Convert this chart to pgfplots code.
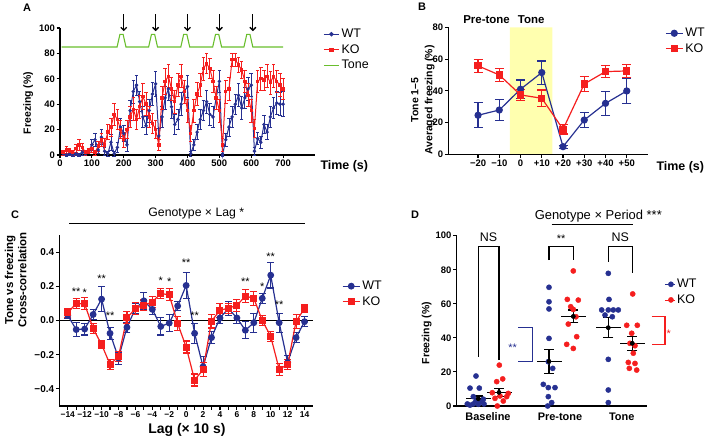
\documentclass[border=0pt]{standalone}
\usepackage{fontspec}
\setmainfont{Liberation Sans}
\usepackage{pgfplots}
\usepackage{pgfplotstable}
\pgfplotsset{compat=1.18}
\usetikzlibrary{arrows.meta}

\definecolor{wtblue}{RGB}{38,48,145}
\definecolor{kored}{RGB}{245,30,30}
\definecolor{tonegreen}{RGB}{105,190,45}
\definecolor{bandyellow}{RGB}{255,255,175}
\newcommand{\by}{\symbol{"00D7}}

\pgfplotsset{
  gp/.style={
    scale only axis, clip=false,
    axis lines=left, axis line style={-, line width=1.1bp},
    tick style={black, line width=1.1bp}, tick align=outside,
    major tick length=3.5bp, minor tick length=3.5bp,
    ticklabel style={font=\fontsize{9.5}{11}\selectfont\bfseries, inner sep=1.5bp},
    /pgf/number format/assume math mode=true,
    label style={font=\fontsize{10.5}{12}\selectfont\bfseries},
    legend style={draw=none, fill=none, inner sep=0pt,
      font=\fontsize{12.5}{14}\selectfont, cells={anchor=west}, row sep=1.5bp},
  },
  ebar/.style 2 args={error bars/.cd, y dir=both, y explicit,
    error bar style={line width=#1},
    error mark options={rotate=90, mark size=#2, line width=#1}},
}

% panel A: freezing over the session, 10 s bins
\pgfplotstableread{
t v e
10 1 1
20 0 1
30 1 1
40 0 1
50 1 1
60 0 1
70 2 2
80 1 1
90 3 2
100 8 4
110 12 5
120 4 3
130 14 6
140 3 3
150 1 2
160 10 6
170 1 2
180 6 4
190 22 7
200 17 6
210 8 5
220 35 8
230 50 9
240 55 8
250 42 8
260 30 8
270 23 7
280 35 9
290 48 9
300 56 10
310 15 6
320 30 8
330 45 9
340 52 9
350 38 9
360 24 8
370 28 8
380 40 9
390 50 9
400 54 9
410 1 2
420 8 4
430 18 6
440 28 8
450 35 8
460 42 9
470 32 9
480 30 8
490 45 9
500 58 9
510 0 1
520 12 5
530 22 7
540 30 8
550 40 8
560 47 9
570 37 9
580 45 8
590 52 9
600 55 9
610 3 3
620 13 5
630 10 5
640 24 7
650 18 6
660 30 8
670 37 8
680 41 9
690 40 9
700 40 10
}\wtA

\pgfplotstableread{
t v e
10 2 2
20 4 3
30 3 2
40 2 2
50 5 3
60 8 4
70 6 3
80 2 2
90 3 2
100 5 3
110 2 2
120 7 4
130 12 5
140 8 5
150 18 6
160 22 7
170 32 9
180 28 8
190 20 7
200 12 6
210 20 7
220 30 8
230 36 9
240 28 8
250 38 9
260 46 10
270 40 9
280 30 8
290 25 8
300 20 7
310 8 4
320 45 9
330 58 10
340 62 9
350 52 9
360 42 9
370 55 9
380 62 9
390 50 9
400 35 9
410 17 6
420 35 9
430 48 9
440 55 9
450 68 9
460 72 8
470 68 8
480 58 9
490 45 9
500 35 9
510 8 5
520 50 9
530 52 9
540 75 5
550 75 5
560 71 6
570 67 7
580 58 9
590 47 9
600 35 9
610 21 7
620 58 9
630 60 9
640 59 8
650 62 9
660 57 9
670 62 9
680 58 9
690 55 9
700 52 8
}\koA

% panel B: tone-locked average
\pgfplotstableread{
t v e
-20 24.6 8
-10 27.9 6.5
0 41 5.8
10 51.5 7.3
20 4.8 1
30 21.6 4.6
40 32.1 7.4
50 39.9 8
}\wtB
\pgfplotstableread{
t v e
-20 55.7 4.3
-10 50 4.2
0 37.4 3.5
10 35.3 5.2
20 15.8 3
30 44.3 4.6
40 52.1 4
50 52.5 4.2
}\koB

% panel C: cross-correlation
\pgfplotstableread{
l v e
-14 0.03 0.02
-13 -0.053 0.04
-12 -0.05 0.035
-11 0.035 0.03
-10 0.125 0.075
-9 -0.075 0.035
-8 -0.22 0.035
-7 -0.04 0.03
-6 0.07 0.03
-5 0.115 0.05
-4 0.065 0.03
-3 -0.035 0.05
-2 -0.015 0.05
-1 0.085 0.025
0 0.205 0.075
1 -0.075 0.06
2 -0.27 0.06
3 -0.1 0.035
4 0.015 0.03
5 0.07 0.04
6 0.015 0.035
7 -0.057 0.05
8 -0.013 0.055
9 0.13 0.03
10 0.265 0.075
11 -0.013 0.055
12 -0.245 0.04
13 -0.1 0.03
14 -0.007 0.03
}\wtC
\pgfplotstableread{
l v e
-14 0.045 0.025
-13 0.1 0.03
-12 0.097 0.035
-11 -0.047 0.03
-10 -0.14 0.025
-9 -0.257 0.03
-8 -0.21 0.03
-7 0.015 0.035
-6 0.07 0.035
-5 0.09 0.03
-4 0.108 0.03
-3 0.158 0.03
-2 0.15 0.035
-1 -0.018 0.04
0 -0.155 0.035
1 -0.348 0.035
2 -0.288 0.04
3 -0.004 0.04
4 0.06 0.04
5 0.072 0.03
6 0.088 0.035
7 0.143 0.04
8 0.13 0.04
9 0.0 0.03
10 -0.093 0.03
11 -0.285 0.035
12 -0.258 0.03
13 -0.005 0.04
14 0.07 0.025
}\koC

% panel D: individual animals (x = jittered position)
\pgfplotstableread{
x v
37.7 17.6
31.7 10.5
41 10.5
35 5.5
45 4
29 1.2
35 1.2
40 1
45.7 1.2
43.4 2.5
31.7 0.5
37.7 3
110.7 69.7
110.7 61.2
110.7 57
110.7 39.7
110 26
114.4 22.1
105 12.7
110 10.8
116.7 10.8
110 5.5
113.4 2
109.4 0
170 77.9
170.7 62.6
163.4 56.4
170 56.4
175 56.4
180 56.4
166.7 53.4
174 52.4
170 27.4
170 9.4
170 2
}\wtD
\pgfplotstableread{
x v
61 24
64.4 15.9
58.4 14.3
54 7.8
61.7 5.9
68.4 5.5
56.7 4.5
65 2.9
59 0
70 7.4
135 79.3
129 62.6
140 62.2
132.4 58.3
135 56.7
137.7 52.4
130 48.1
138.4 40.7
128.4 36.2
135 33.8
194.4 65.8
188.4 47.4
199 47.4
193.4 42.7
191.7 36.8
196.7 35.4
195 31
190 25.6
196.7 25
191 22.1
198.4 21.1
}\koD
\pgfplotstableread{
x m e
40 4.3 1.6
60.7 8 2.2
110.7 26.2 7.2
135 52.6 3.8
170 46 6
194 36.8 4
}\meanD

\begin{document}
\begin{tikzpicture}
\path[use as bounding box] (0bp,0bp) rectangle (709bp,439bp);

% ---------------- A
\begin{axis}[gp, at={(60bp,284bp)}, anchor=south west, width=255bp, height=127bp,
  xmin=0, xmax=800, ymin=0, ymax=100,
  xtick={0,100,...,700}, ytick={0,20,...,100},
  xlabel={Time (s)}, ylabel={Freezing (\%)},
  xlabel style={font=\fontsize{12.5}{14}\selectfont\bfseries,
    at={(axis description cs:1.008,-0.087)}, anchor=west},
  ylabel style={at={(axis description cs:-0.125,0.41)}, anchor=center},
  legend style={at={(1.031,1.008)}, anchor=north west},
  legend image code/.code={\draw[#1] (0bp,0bp) -- (15bp,0bp); \draw[#1] plot coordinates {(7.5bp,0bp)};},
]
\addlegendimage{draw=wtblue, fill=wtblue, line width=1.3bp, mark=*, mark size=1.5bp}
\addlegendentry{WT}
\addlegendimage{draw=kored, fill=kored, line width=1.3bp, mark=square*, mark size=1.5bp}
\addlegendentry{KO}
\addlegendimage{draw=tonegreen, line width=1.6bp, mark=none}
\addlegendentry{Tone}
\addplot[wtblue, line width=1bp, mark=*, mark size=1.2bp, forget plot, ebar={0.8bp}{1.8bp}]
  table[x=t, y=v, y error=e]{\wtA};
\addplot[kored, line width=1bp, mark=square*, mark size=1.2bp, forget plot, ebar={0.8bp}{1.8bp}]
  table[x=t, y=v, y error=e]{\koA};
\addplot[tonegreen, line width=1.1bp, mark=none, forget plot] coordinates {
  (5,85) (179,85) (188,95) (198,95) (207,85)
  (278,85) (287,95) (297,95) (306,85)
  (379,85) (388,95) (398,95) (407,85)
  (479,85) (488,95) (498,95) (507,85)
  (577,85) (586,95) (596,95) (605,85) (700,85)};
\pgfplotsinvokeforeach{200,300,400,500,605}{
  \draw[line width=1.3bp, -{Straight Barb[length=3bp, width=6bp]}] (axis cs:#1,111) -- (axis cs:#1,97.5);
}
\end{axis}
\node[font=\fontsize{11}{13}\selectfont\bfseries] at (27bp,431bp) {A};

% ---------------- B
\begin{axis}[gp, at={(448.3bp,284.7bp)}, anchor=south west, width=199.7bp, height=127bp,
  xmin=-34, xmax=60, ymin=0, ymax=80, axis on top,
  xtick={-20,-10,...,50}, xticklabels={−20,−10,0,+10,+20,+30,+40,+50},
  ytick={0,20,...,80},
  xlabel={Time (s)}, ylabel={Tone 1–5\\Averaged freezing (\%)},
  xlabel style={font=\fontsize{12.5}{14}\selectfont\bfseries,
    at={(axis description cs:1.025,-0.1)}, anchor=west},
  ylabel style={font=\fontsize{10.5}{14}\selectfont\bfseries, align=center,
    at={(axis description cs:-0.1275,0.428)}, anchor=center},
  legend style={at={(1.085,1.01)}, anchor=north west},
]
\addplot[fill=bandyellow, draw=none, forget plot] coordinates {(-5,0) (15,0) (15,80) (-5,80)} \closedcycle;
\addplot[wtblue, line width=1.2bp, mark=*, mark size=3bp, ebar={1.1bp}{4.5bp}]
  table[x=t, y=v, y error=e]{\wtB};
\addlegendentry{WT}
\addplot[kored, line width=1.2bp, mark=square*, mark size=3bp, ebar={1.1bp}{4.5bp}]
  table[x=t, y=v, y error=e]{\koB};
\addlegendentry{KO}
\node[font=\fontsize{11.5}{13}\selectfont\bfseries] at (axis cs:-16,84.6) {Pre-tone};
\node[font=\fontsize{11.5}{13}\selectfont\bfseries] at (axis cs:5,84.6) {Tone};
\end{axis}
\node[font=\fontsize{11}{13}\selectfont\bfseries] at (422bp,432bp) {B};

% ---------------- C
\begin{axis}[gp, at={(59.3bp,33bp)}, anchor=south west, width=253.7bp, height=171bp,
  xmin=-15, xmax=15, ymin=-0.5, ymax=0.5,
  xtick={-14,-12,...,14},
  xticklabels={−14,−12,−10,−8,−6,−4,−2,0,2,4,6,8,10,12,14},
  xticklabel style={font=\fontsize{8.5}{10}\selectfont\bfseries},
  minor xtick={-13,-11,...,13},
  ytick={-0.4,-0.2,0,0.2,0.4}, yticklabels={−0.4,−0.2,0.0,0.2,0.4},
  yticklabel style={font=\fontsize{10}{11}\selectfont\bfseries},
  xlabel={Lag (\by{} 10 s)}, ylabel={Tone vs freezing\\Cross-correlation},
  xlabel style={font=\fontsize{14}{16}\selectfont\bfseries,
    at={(axis description cs:0.503,-0.14)}, anchor=center},
  ylabel style={font=\fontsize{11.5}{13.5}\selectfont\bfseries, align=center,
    at={(axis description cs:-0.172,0.737)}, anchor=center},
  legend style={at={(1.114,0.743)}, anchor=north west},
]
\addplot[black, line width=1.2bp, forget plot] coordinates {(-15,0) (15,0)};
\addplot[wtblue, line width=1.2bp, mark=*, mark size=2.8bp, ebar={1.1bp}{3.5bp}]
  table[x=l, y=v, y error=e]{\wtC};
\addlegendentry{WT}
\addplot[kored, line width=1.2bp, mark=square*, mark size=2.9bp, ebar={1.1bp}{3.5bp}]
  table[x=l, y=v, y error=e]{\koC};
\addlegendentry{KO}
\begin{scope}[every node/.style={font=\fontsize{11}{12}\selectfont}]
\node at (axis cs:-13,0.17) {**};
\node at (axis cs:-12,0.165) {*};
\node at (axis cs:-10,0.245) {**};
\node at (axis cs:-9,0.025) {**};
\node at (axis cs:-3,0.235) {*};
\node at (axis cs:-2,0.225) {*};
\node at (axis cs:0,0.335) {**};
\node at (axis cs:1,0.025) {**};
\node at (axis cs:7,0.225) {**};
\node at (axis cs:9,0.2) {*};
\node at (axis cs:10,0.37) {**};
\node at (axis cs:11,0.095) {**};
\end{scope}
\draw[line width=1bp] (axis cs:-13.85,0.565) -- (axis cs:14.05,0.565);
\node[font=\fontsize{12.3}{14}\selectfont] at (axis cs:1.2,0.624) {Genotype \by{} Lag *};
\end{axis}
\node[font=\fontsize{11}{13}\selectfont\bfseries] at (15bp,224bp) {C};

% ---------------- D
\begin{axis}[gp, at={(456.7bp,33bp)}, anchor=south west, width=190bp, height=170.3bp,
  xmin=18.4, xmax=208.4, ymin=0, ymax=100,
  xtick={49.7,121.7,183.4}, xticklabels={Baseline,Pre-tone,Tone},
  xtick style={draw=none},
  xticklabel style={font=\fontsize{11}{13}\selectfont\bfseries, inner sep=3bp},
  ytick={0,20,...,100},
  ylabel={Freezing (\%)},
  ylabel style={at={(axis description cs:-0.158,0.427)}, anchor=center},
  legend style={at={(1.094,0.757)}, anchor=north west},
  legend image code/.code={\path (0bp,0bp) -- (10bp,0bp); \draw[#1] plot coordinates {(6bp,0bp)};},
]
\addplot[only marks, mark=*, mark size=2.6bp, color=wtblue] table[x=x, y=v]{\wtD};
\addlegendentry{WT}
\addplot[only marks, mark=*, mark size=2.6bp, color=kored] table[x=x, y=v]{\koD};
\addlegendentry{KO}
% mean +- SEM
\addplot[only marks, mark=none, black, forget plot, ebar={1.1bp}{5bp}]
  table[x=x, y=m, y error=e]{\meanD};
\addplot[only marks, mark=none, black, forget plot,
  error bars/.cd, x dir=both, x fixed=12.5, error mark=none,
  error bar style={line width=1.2bp}]
  table[x=x, y=m]{\meanD};
\draw[line width=1.1bp] (axis cs:40,29) -- (axis cs:40,93.5) -- (axis cs:60.7,93.5) -- (axis cs:60.7,27);
\draw[line width=1.1bp] (axis cs:110.7,85.7) -- (axis cs:110.7,93.5) -- (axis cs:135,93.5) -- (axis cs:135,85.7);
\draw[line width=1.1bp] (axis cs:170,84.7) -- (axis cs:170,93.5) -- (axis cs:194,93.5) -- (axis cs:194,78);
\node[font=\fontsize{12.5}{14}\selectfont] at (axis cs:50.3,99.4) {NS};
\node[font=\fontsize{11}{13}\selectfont] at (axis cs:122.8,98) {**};
\node[font=\fontsize{12.5}{14}\selectfont] at (axis cs:182,99.4) {NS};
\draw[line width=1bp] (axis cs:113.4,106.3) -- (axis cs:195,106.3);
\node[font=\fontsize{13}{15}\selectfont] at (axis cs:160,111.5) {Genotype \by{} Period ***};
\draw[wtblue, line width=1.1bp] (axis cs:80,46) -- (axis cs:94.4,46) -- (axis cs:94.4,26) -- (axis cs:80,26);
\node[wtblue, font=\fontsize{11}{13}\selectfont] at (axis cs:74.4,34.5) {**};
\draw[kored, line width=1.1bp] (axis cs:213.4,52.4) -- (axis cs:226.7,52.4) -- (axis cs:226.7,36.2) -- (axis cs:213.4,36.2);
\node[kored, font=\fontsize{11}{13}\selectfont] at (axis cs:230.5,42.5) {*};
\end{axis}
\node[font=\fontsize{11}{13}\selectfont\bfseries] at (415bp,224bp) {D};
\end{tikzpicture}
\end{document}
